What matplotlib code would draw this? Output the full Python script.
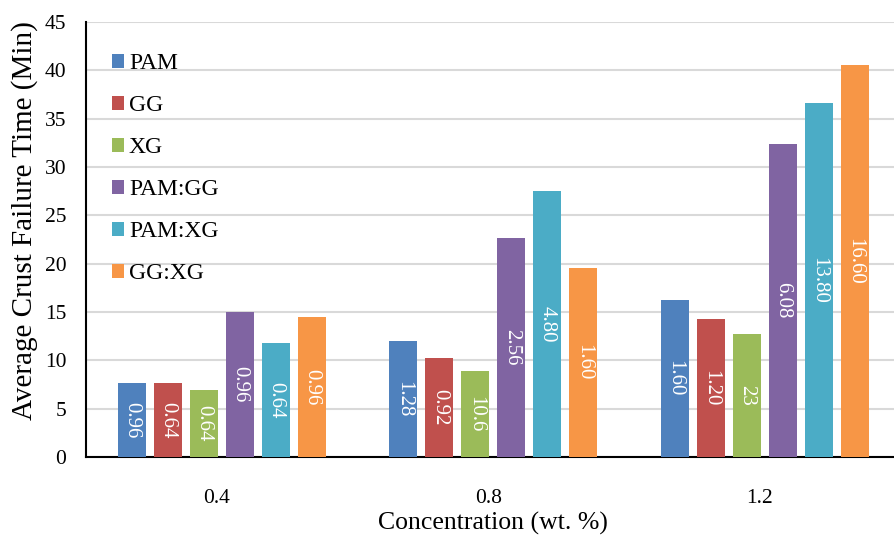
import numpy as np
import matplotlib.pyplot as plt
from matplotlib.transforms import ScaledTranslation

concentrations = ['0.4', '0.8', '1.2']
series_names = ['PAM', 'GG', 'XG', 'PAM:GG', 'PAM:XG', 'GG:XG']
pam = [7.6, 12.0, 16.2]
gg = [7.6, 10.2, 14.3]
xg = [6.9, 8.9, 12.7]
pam_gg = [15.0, 22.6, 32.4]
pam_xg = [11.8, 27.5, 36.6]
gg_xg = [14.5, 19.5, 40.5]

# text shown inside the bars
pam_lbl = ['0.96', '1.28', '1.60']
gg_lbl = ['0.64', '0.92', '1.20']
xg_lbl = ['0.64', '10.6', '23']
pam_gg_lbl = ['0.96', '2.56', '6.08']
pam_xg_lbl = ['0.64', '4.80', '13.80']
gg_xg_lbl = ['0.96', '1.60', '16.60']

colors = ['#4F81BD', '#C0504D', '#9BBB59', '#8064A2', '#4BACC6', '#F79646']

plt.rcParams['font.family'] = ['Liberation Serif', 'DejaVu Serif']

fig = plt.figure(figsize=(8.94, 5.35), dpi=100)
# plot area runs slightly past the right edge, as in the original
ax = fig.add_axes([0.096, 0.146, 0.9116, 0.813])

values = [pam, gg, xg, pam_gg, pam_xg, gg_xg]
labels = [pam_lbl, gg_lbl, xg_lbl, pam_gg_lbl, pam_xg_lbl, gg_xg_lbl]
x = np.arange(len(concentrations))
width = 0.103
pitch = 0.1326

for i, (name, vals, lbls) in enumerate(zip(series_names, values, labels)):
    pos = x + (i - 2.5) * pitch
    bars = ax.bar(pos, vals, width, color=colors[i], label=name, zorder=3)
    for b, t in zip(bars, lbls):
        ax.text(b.get_x() + b.get_width() / 2, b.get_height() / 2, t,
                rotation=270, ha='center', va='center', color='white',
                fontsize=15, zorder=4)

ax.set_xlim(-0.5, 2.5)
ax.set_ylim(0, 45)
ax.set_yticks(range(0, 46, 5))
ax.set_xticks(x)
ax.set_xticklabels(concentrations)
ax.tick_params(length=0, labelsize=15.5)
ax.tick_params(axis='y', pad=14)
ax.tick_params(axis='x', pad=23)
# category labels sit a little left of the bar groups
shift = ScaledTranslation(-0.05, 0, fig.dpi_scale_trans)
for lab in ax.get_xticklabels():
    lab.set_transform(lab.get_transform() + shift)
ax.grid(axis='y', color='#d9d9d9', linewidth=1.5, zorder=0)
ax.spines['top'].set_visible(False)
ax.spines['right'].set_visible(False)
ax.spines['left'].set_linewidth(1.5)
ax.spines['bottom'].set_linewidth(1.5)

ax.set_ylabel('Average Crust Failure Time (Min)', fontsize=21)
ax.yaxis.set_label_coords(-0.059, 0.543)
ax.set_xlabel('Concentration (wt. %)', fontsize=18.5, labelpad=3)

ax.legend(loc='upper left', bbox_to_anchor=(0.0204, 0.95), frameon=False,
          fontsize=17, handlelength=0.52, handleheight=0.52, handletextpad=0.2,
          labelspacing=0.89, borderaxespad=0)

fig.savefig('out.png', dpi=100)
